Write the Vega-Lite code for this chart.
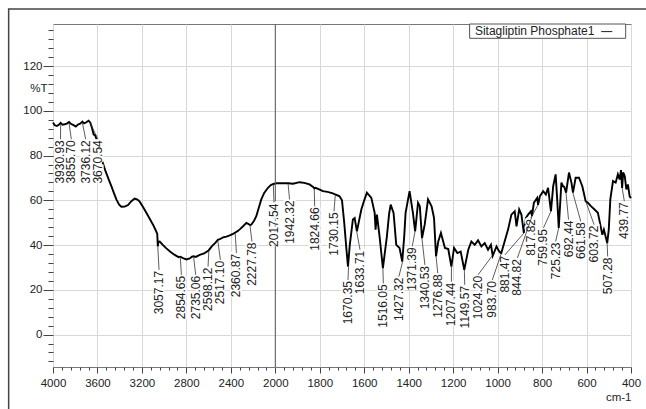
{
  "$schema": "https://vega.github.io/schema/vega-lite/v6.json",
  "width": 578,
  "height": 343,
  "autosize": "none",
  "padding": {"left": 53, "top": 24, "right": 15, "bottom": 42},
  "background": "white",
  "config": {"view": {"stroke": "#777", "strokeWidth": 1}, "font": "Liberation Sans"},
  "datasets": {
    "spectrum": [
      {"wn": 4000, "t": 94.8}, {"wn": 3985, "t": 93.6}, {"wn": 3965, "t": 93.2}, {"wn": 3945, "t": 93.9},
      {"wn": 3931, "t": 94.6}, {"wn": 3915, "t": 93.8}, {"wn": 3895, "t": 94.0}, {"wn": 3875, "t": 94.3},
      {"wn": 3856, "t": 95.0}, {"wn": 3840, "t": 94.2}, {"wn": 3815, "t": 93.6}, {"wn": 3795, "t": 93.0},
      {"wn": 3775, "t": 93.9}, {"wn": 3755, "t": 94.3}, {"wn": 3736, "t": 95.2}, {"wn": 3720, "t": 94.4},
      {"wn": 3700, "t": 94.9}, {"wn": 3680, "t": 95.6}, {"wn": 3665, "t": 94.8}, {"wn": 3650, "t": 92.5},
      {"wn": 3635, "t": 89.5}, {"wn": 3620, "t": 89.0}, {"wn": 3600, "t": 86.0}, {"wn": 3570, "t": 79.5},
      {"wn": 3530, "t": 73.4}, {"wn": 3500, "t": 69.5}, {"wn": 3475, "t": 66.3}, {"wn": 3450, "t": 63.0},
      {"wn": 3430, "t": 60.4}, {"wn": 3405, "t": 58.0}, {"wn": 3385, "t": 57.1}, {"wn": 3355, "t": 57.2},
      {"wn": 3325, "t": 57.9}, {"wn": 3295, "t": 59.6}, {"wn": 3265, "t": 60.8}, {"wn": 3240, "t": 60.3},
      {"wn": 3220, "t": 59.4}, {"wn": 3190, "t": 57.0}, {"wn": 3160, "t": 54.4}, {"wn": 3130, "t": 51.8},
      {"wn": 3100, "t": 49.1}, {"wn": 3075, "t": 46.5}, {"wn": 3062, "t": 45.0}, {"wn": 3057, "t": 39.4},
      {"wn": 3052, "t": 41.5}, {"wn": 3040, "t": 41.6}, {"wn": 3010, "t": 40.0}, {"wn": 2980, "t": 38.5},
      {"wn": 2945, "t": 37.0}, {"wn": 2905, "t": 35.6}, {"wn": 2870, "t": 34.6}, {"wn": 2855, "t": 34.8},
      {"wn": 2830, "t": 34.2}, {"wn": 2800, "t": 33.6}, {"wn": 2770, "t": 34.0}, {"wn": 2750, "t": 34.8},
      {"wn": 2735, "t": 35.0}, {"wn": 2715, "t": 34.7}, {"wn": 2680, "t": 35.6}, {"wn": 2640, "t": 36.3},
      {"wn": 2600, "t": 37.6}, {"wn": 2570, "t": 39.5}, {"wn": 2540, "t": 41.0}, {"wn": 2517, "t": 42.3},
      {"wn": 2500, "t": 42.6}, {"wn": 2470, "t": 43.4}, {"wn": 2440, "t": 43.8}, {"wn": 2410, "t": 44.3},
      {"wn": 2380, "t": 45.0}, {"wn": 2360, "t": 45.6}, {"wn": 2340, "t": 46.2}, {"wn": 2320, "t": 47.0},
      {"wn": 2290, "t": 48.4}, {"wn": 2260, "t": 49.9}, {"wn": 2240, "t": 49.4}, {"wn": 2228, "t": 49.0},
      {"wn": 2216, "t": 49.1}, {"wn": 2190, "t": 51.0}, {"wn": 2171, "t": 52.9}, {"wn": 2150, "t": 56.5},
      {"wn": 2126, "t": 60.4}, {"wn": 2100, "t": 63.3}, {"wn": 2066, "t": 65.6}, {"wn": 2040, "t": 66.8},
      {"wn": 2017, "t": 67.3}, {"wn": 1995, "t": 67.6}, {"wn": 1970, "t": 67.6}, {"wn": 1942, "t": 67.6},
      {"wn": 1920, "t": 67.4}, {"wn": 1891, "t": 68.1}, {"wn": 1870, "t": 67.8}, {"wn": 1846, "t": 67.1},
      {"wn": 1830, "t": 66.0}, {"wn": 1824, "t": 65.3}, {"wn": 1819, "t": 65.6}, {"wn": 1800, "t": 64.8},
      {"wn": 1786, "t": 64.1}, {"wn": 1765, "t": 63.8}, {"wn": 1741, "t": 63.1}, {"wn": 1730, "t": 62.6},
      {"wn": 1711, "t": 61.8}, {"wn": 1700, "t": 60.0}, {"wn": 1690, "t": 50.0}, {"wn": 1680, "t": 38.0},
      {"wn": 1673, "t": 30.4}, {"wn": 1665, "t": 40.0}, {"wn": 1651, "t": 51.4}, {"wn": 1643, "t": 52.1},
      {"wn": 1633, "t": 46.1}, {"wn": 1625, "t": 50.0}, {"wn": 1613, "t": 55.9}, {"wn": 1600, "t": 60.0},
      {"wn": 1588, "t": 63.4}, {"wn": 1568, "t": 61.1}, {"wn": 1553, "t": 54.4}, {"wn": 1549, "t": 46.9},
      {"wn": 1543, "t": 53.6}, {"wn": 1531, "t": 43.9}, {"wn": 1516, "t": 29.7}, {"wn": 1498, "t": 43.9},
      {"wn": 1488, "t": 54.0}, {"wn": 1481, "t": 58.1}, {"wn": 1468, "t": 54.4}, {"wn": 1456, "t": 40.1},
      {"wn": 1441, "t": 38.7}, {"wn": 1429, "t": 32.6}, {"wn": 1420, "t": 44.0}, {"wn": 1414, "t": 54.4},
      {"wn": 1396, "t": 64.1}, {"wn": 1381, "t": 54.4}, {"wn": 1371, "t": 46.1}, {"wn": 1358, "t": 58.9},
      {"wn": 1350, "t": 57.3}, {"wn": 1340, "t": 43.1}, {"wn": 1328, "t": 49.1}, {"wn": 1313, "t": 60.4},
      {"wn": 1297, "t": 57.3}, {"wn": 1286, "t": 52.1}, {"wn": 1277, "t": 34.9}, {"wn": 1267, "t": 41.6},
      {"wn": 1255, "t": 45.4}, {"wn": 1237, "t": 38.7}, {"wn": 1222, "t": 38.2}, {"wn": 1208, "t": 30.4},
      {"wn": 1196, "t": 38.7}, {"wn": 1181, "t": 36.4}, {"wn": 1166, "t": 37.1}, {"wn": 1150, "t": 28.9},
      {"wn": 1132, "t": 37.9}, {"wn": 1118, "t": 41.6}, {"wn": 1103, "t": 40.1}, {"wn": 1088, "t": 42.1},
      {"wn": 1073, "t": 39.4}, {"wn": 1058, "t": 40.9}, {"wn": 1043, "t": 37.9}, {"wn": 1030, "t": 40.1},
      {"wn": 1022, "t": 35.2}, {"wn": 1005, "t": 39.4}, {"wn": 995, "t": 37.5}, {"wn": 984, "t": 36.2},
      {"wn": 975, "t": 39.4}, {"wn": 953, "t": 46.9}, {"wn": 938, "t": 53.6}, {"wn": 923, "t": 55.1},
      {"wn": 915, "t": 48.4}, {"wn": 903, "t": 55.9}, {"wn": 893, "t": 53.6}, {"wn": 882, "t": 45.4},
      {"wn": 873, "t": 52.1}, {"wn": 863, "t": 53.6}, {"wn": 850, "t": 55.1}, {"wn": 845, "t": 53.0},
      {"wn": 837, "t": 58.9}, {"wn": 822, "t": 61.1}, {"wn": 818, "t": 58.0}, {"wn": 810, "t": 61.8},
      {"wn": 795, "t": 64.1}, {"wn": 783, "t": 62.6}, {"wn": 773, "t": 65.6}, {"wn": 760, "t": 55.1},
      {"wn": 750, "t": 66.3}, {"wn": 739, "t": 71.6}, {"wn": 732, "t": 60.4}, {"wn": 725, "t": 47.6},
      {"wn": 713, "t": 67.9}, {"wn": 706, "t": 66.3}, {"wn": 700, "t": 66.0}, {"wn": 692, "t": 63.4},
      {"wn": 679, "t": 72.4}, {"wn": 668, "t": 67.9}, {"wn": 661, "t": 63.4}, {"wn": 649, "t": 70.1},
      {"wn": 634, "t": 70.1}, {"wn": 619, "t": 66.3}, {"wn": 604, "t": 59.6}, {"wn": 594, "t": 58.9},
      {"wn": 579, "t": 57.3}, {"wn": 564, "t": 55.9}, {"wn": 549, "t": 54.4}, {"wn": 541, "t": 50.6},
      {"wn": 529, "t": 44.6}, {"wn": 522, "t": 46.9}, {"wn": 507, "t": 40.9}, {"wn": 500, "t": 46.9},
      {"wn": 493, "t": 60.4}, {"wn": 481, "t": 68.6}, {"wn": 469, "t": 67.9}, {"wn": 459, "t": 71.6},
      {"wn": 451, "t": 69.3}, {"wn": 445, "t": 73.5}, {"wn": 440, "t": 65.5}, {"wn": 435, "t": 72.5},
      {"wn": 428, "t": 70.8}, {"wn": 421, "t": 64.9}, {"wn": 414, "t": 67.1}, {"wn": 406, "t": 61.8},
      {"wn": 400, "t": 61.0}
    ],
    "peaks": [
      {"label": "3930.93", "peak": 3930.93, "lx": 3933, "ly": 87.3, "cy": 94.0},
      {"label": "3855.70", "peak": 3855.70, "lx": 3835, "ly": 87.3, "cy": 94.5},
      {"label": "3736.12", "peak": 3736.12, "lx": 3706, "ly": 87.3, "cy": 94.8},
      {"label": "3670.54", "peak": 3670.54, "lx": 3595, "ly": 87.3, "cy": 95.0},
      {"label": "3057.17", "peak": 3057.17, "lx": 3046, "ly": 28.9, "cy": 39.4},
      {"label": "2854.65", "peak": 2854.65, "lx": 2845, "ly": 26.7, "cy": 34.6},
      {"label": "2735.06", "peak": 2735.06, "lx": 2716, "ly": 26.7, "cy": 34.8},
      {"label": "2598.12", "peak": 2598.12, "lx": 2605, "ly": 30.4, "cy": 37.4},
      {"label": "2517.10", "peak": 2517.10, "lx": 2494, "ly": 33.4, "cy": 42.0},
      {"label": "2360.87", "peak": 2360.87, "lx": 2350, "ly": 36.5, "cy": 45.4},
      {"label": "2227.78", "peak": 2227.78, "lx": 2210, "ly": 41.6, "cy": 48.8},
      {"label": "2017.54", "peak": 2017.54, "lx": 2012, "ly": 59.0, "cy": 67.0},
      {"label": "1942.32", "peak": 1942.32, "lx": 1936, "ly": 60.4, "cy": 67.3},
      {"label": "1824.66", "peak": 1824.66, "lx": 1823, "ly": 57.3, "cy": 65.0},
      {"label": "1730.15", "peak": 1730.15, "lx": 1736, "ly": 55.1, "cy": 62.4},
      {"label": "1670.35", "peak": 1670.35, "lx": 1673, "ly": 24.4, "cy": 30.4},
      {"label": "1633.71", "peak": 1633.71, "lx": 1619, "ly": 37.9, "cy": 46.0},
      {"label": "1516.05", "peak": 1516.05, "lx": 1514, "ly": 22.9, "cy": 29.7},
      {"label": "1427.32", "peak": 1427.32, "lx": 1444, "ly": 25.9, "cy": 32.6},
      {"label": "1371.39", "peak": 1371.39, "lx": 1384, "ly": 39.4, "cy": 46.1},
      {"label": "1340.53", "peak": 1340.53, "lx": 1327, "ly": 31.1, "cy": 43.1},
      {"label": "1276.88", "peak": 1276.88, "lx": 1269, "ly": 27.4, "cy": 34.9},
      {"label": "1207.44", "peak": 1207.44, "lx": 1208, "ly": 23.6, "cy": 30.4},
      {"label": "1149.57", "peak": 1149.57, "lx": 1148, "ly": 22.2, "cy": 28.9},
      {"label": "1024.20", "peak": 1024.20, "lx": 1088, "ly": 26.7, "cy": 35.2},
      {"label": "983.70", "peak": 983.70, "lx": 1024, "ly": 24.4, "cy": 36.2},
      {"label": "881.47", "peak": 881.47, "lx": 967, "ly": 35.6, "cy": 45.4},
      {"label": "844.82", "peak": 844.82, "lx": 911, "ly": 34.2, "cy": 53.0},
      {"label": "817.82", "peak": 817.82, "lx": 851, "ly": 52.1, "cy": 58.0},
      {"label": "759.95", "peak": 759.95, "lx": 794, "ly": 47.6, "cy": 55.1},
      {"label": "725.23", "peak": 725.23, "lx": 739, "ly": 41.6, "cy": 47.6},
      {"label": "692.44", "peak": 692.44, "lx": 681, "ly": 51.4, "cy": 63.4},
      {"label": "661.58", "peak": 661.58, "lx": 626, "ly": 50.6, "cy": 63.4},
      {"label": "603.72", "peak": 603.72, "lx": 566, "ly": 49.1, "cy": 59.6},
      {"label": "507.28", "peak": 507.28, "lx": 505, "ly": 34.9, "cy": 40.9},
      {"label": "439.77", "peak": 439.77, "lx": 430, "ly": 59.6, "cy": 65.5}
    ],
    "legend": [{"name": "Sitagliptin Phosphate1"}]
  },
  "layer": [
    {
      "data": {"name": "spectrum"},
      "mark": {"type": "line", "color": "black", "strokeWidth": 1.9},
      "encoding": {
        "x": {
          "field": "wn", "type": "quantitative",
          "scale": {"domain": [4000, 2000, 400], "range": [0, 222.3, 578], "zero": false, "nice": false},
          "axis": {
            "values": [4000,3920,3840,3760,3680,3600,3520,3440,3360,3280,3200,3120,3040,2960,2880,2800,2720,2640,2560,2480,2400,2320,2240,2160,2080,2000,1960,1920,1880,1840,1800,1760,1720,1680,1640,1600,1560,1520,1480,1440,1400,1360,1320,1280,1240,1200,1160,1120,1080,1040,1000,960,920,880,840,800,760,720,680,640,600,560,520,480,440,400],
            "tickCount": 1000,
            "format": "d",
            "labelExpr": "((datum.value > 2000 && datum.value % 400 == 0) || (datum.value <= 2000 && datum.value % 200 == 0)) ? datum.label : ''",
            "labelOverlap": false, "labelFlush": false, "labelBound": false,
            "domain": false,
            "grid": true, "gridColor": "#d8d8d8",
            "gridOpacity": {"condition": {"test": "(datum.value > 2000 && datum.value % 400 == 0) || (datum.value <= 2000 && datum.value % 200 == 0)", "value": 1}, "value": 0},
            "tickColor": "#444",
            "tickSize": {"condition": {"test": "(datum.value > 2000 && datum.value % 400 == 0) || (datum.value <= 2000 && datum.value % 200 == 0)", "value": 6}, "value": 3},
            "labelFontSize": 11.5, "labelColor": "#222", "labelPadding": 4,
            "title": "cm-1", "titleAnchor": "end", "titleFontWeight": "normal", "titleFontSize": 11.5, "titleColor": "#222", "titlePadding": 3
          }
        },
        "y": {
          "field": "t", "type": "quantitative",
          "scale": {"domain": [-14.5, 138.8], "zero": false, "nice": false},
          "axis": {
            "values": [-12,-8,-4,0,4,8,12,16,20,24,28,32,36,40,44,48,52,56,60,64,68,72,76,80,84,88,92,96,100,104,108,110,112,116,120,124,128,132,136],
            "tickCount": 1000,
            "format": "d",
            "labelExpr": "datum.value == 110 ? '%T' : (datum.value % 20 == 0 ? datum.label : '')",
            "labelOverlap": false, "labelFlush": false, "labelBound": false,
            "domain": false,
            "grid": true, "gridColor": "#d8d8d8",
            "gridOpacity": {"condition": {"test": "datum.value % 20 == 0", "value": 1}, "value": 0},
            "tickColor": "#444",
            "tickSize": {"condition": {"test": "datum.value % 20 == 0", "value": 10}, "value": 5},
            "tickOpacity": {"condition": {"test": "datum.value == 110", "value": 0}, "value": 1},
            "labelFontSize": 11.5, "labelColor": "#222", "labelPadding": 1,
            "title": null
          }
        }
      }
    },
    {
      "data": {"values": [{}]},
      "mark": {"type": "rule", "color": "#555", "strokeWidth": 1},
      "encoding": {"x": {"datum": 2000, "type": "quantitative", "scale": {"domain": [4000, 2000, 400], "range": [0, 222.3, 578], "zero": false, "nice": false}}}
    },
    {
      "data": {"name": "peaks"},
      "mark": {"type": "text", "angle": 270, "align": "right", "baseline": "middle", "fontSize": 12, "fill": "white", "stroke": "white", "strokeWidth": 3},
      "encoding": {
        "x": {"field": "lx", "type": "quantitative", "scale": {"domain": [4000, 2000, 400], "range": [0, 222.3, 578], "zero": false, "nice": false}},
        "y": {"field": "ly", "type": "quantitative", "scale": {"domain": [-14.5, 138.8], "zero": false, "nice": false}},
        "text": {"field": "label"}
      }
    },
    {
      "data": {"name": "peaks"},
      "mark": {"type": "rule", "color": "#333", "strokeWidth": 0.8},
      "encoding": {
        "x": {"field": "lx", "type": "quantitative", "scale": {"domain": [4000, 2000, 400], "range": [0, 222.3, 578], "zero": false, "nice": false}},
        "x2": {"field": "peak"},
        "y": {"field": "ly", "type": "quantitative", "scale": {"domain": [-14.5, 138.8], "zero": false, "nice": false}},
        "y2": {"field": "cy"}
      }
    },
    {
      "data": {"name": "peaks"},
      "mark": {"type": "text", "angle": 270, "align": "right", "baseline": "middle", "fontSize": 12, "color": "#222", "dx": -1},
      "encoding": {
        "x": {"field": "lx", "type": "quantitative", "scale": {"domain": [4000, 2000, 400], "range": [0, 222.3, 578], "zero": false, "nice": false}},
        "y": {"field": "ly", "type": "quantitative", "scale": {"domain": [-14.5, 138.8], "zero": false, "nice": false}},
        "text": {"field": "label"}
      }
    },
    {
      "data": {"name": "legend"},
      "mark": {"type": "rect", "fill": "white", "stroke": "#555", "strokeWidth": 1},
      "encoding": {
        "x": {"datum": 1126, "type": "quantitative", "scale": {"domain": [4000, 2000, 400], "range": [0, 222.3, 578], "zero": false, "nice": false}},
        "x2": {"datum": 424},
        "y": {"datum": 138.8, "type": "quantitative", "scale": {"domain": [-14.5, 138.8], "zero": false, "nice": false}},
        "y2": {"datum": 132.4}
      }
    },
    {
      "data": {"name": "legend"},
      "mark": {"type": "text", "align": "left", "baseline": "middle", "fontSize": 12, "color": "#222"},
      "encoding": {
        "x": {"datum": 1102, "type": "quantitative", "scale": {"domain": [4000, 2000, 400], "range": [0, 222.3, 578], "zero": false, "nice": false}},
        "y": {"datum": 135.5, "type": "quantitative", "scale": {"domain": [-14.5, 138.8], "zero": false, "nice": false}},
        "text": {"field": "name"}
      }
    },
    {
      "data": {"name": "legend"},
      "mark": {"type": "rule", "color": "#222", "strokeWidth": 1},
      "encoding": {
        "x": {"datum": 534, "type": "quantitative", "scale": {"domain": [4000, 2000, 400], "range": [0, 222.3, 578], "zero": false, "nice": false}},
        "x2": {"datum": 484},
        "y": {"datum": 135.4, "type": "quantitative", "scale": {"domain": [-14.5, 138.8], "zero": false, "nice": false}}
      }
    },
    {
      "data": {"values": [{}]},
      "mark": {"type": "rect", "fill": null, "filled": false, "stroke": "#444", "strokeWidth": 1.5, "clip": false},
      "encoding": {
        "x": {"datum": 4399, "type": "quantitative", "scale": {"domain": [4000, 2000, 400], "range": [0, 222.3, 578], "zero": false, "nice": false}},
        "x2": {"datum": 300},
        "y": {"datum": 145.5, "type": "quantitative", "scale": {"domain": [-14.5, 138.8], "zero": false, "nice": false}},
        "y2": {"datum": -45}
      }
    }
  ]
}
